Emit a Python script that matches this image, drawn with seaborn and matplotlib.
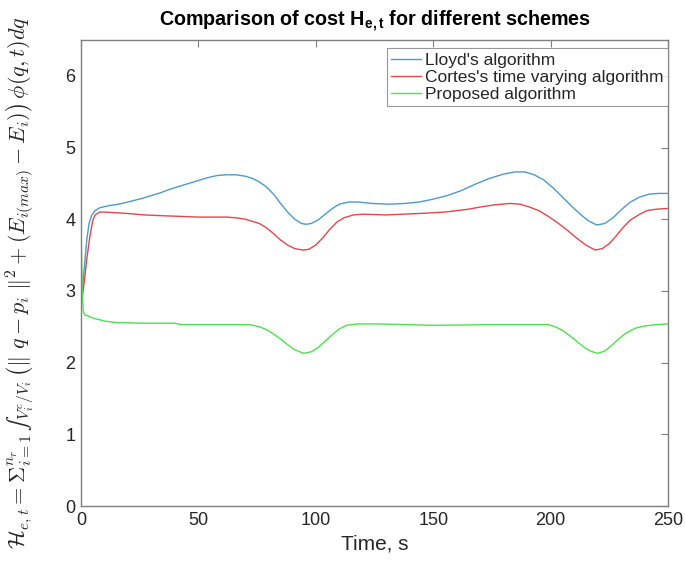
import numpy as np
import pandas as pd
import matplotlib
matplotlib.use("Agg")
import matplotlib.pyplot as plt
import seaborn as sns

# Cost H_{e,t} over time for three coverage-control schemes
t_lloyd = [0.5, 1.5, 2.5, 3.5, 4.5, 6, 8, 12, 16, 20, 26, 30, 34, 38, 42, 46,
           50, 54, 58, 62, 66, 70, 73, 76, 79, 82, 85, 88, 91, 94, 96, 98, 101,
           104, 107.5, 110, 114, 118, 124, 131, 138, 144, 150, 156, 162, 168,
           174, 180, 185, 189, 193, 197, 201, 205, 209, 213, 216, 219.6, 223,
           226.6, 230, 234, 238, 242, 246, 250]
v_lloyd = [3.01, 3.35, 3.72, 3.95, 4.05, 4.12, 4.16, 4.19, 4.21, 4.24, 4.29,
           4.33, 4.37, 4.42, 4.46, 4.50, 4.54, 4.58, 4.61, 4.62, 4.62, 4.60,
           4.57, 4.52, 4.45, 4.35, 4.22, 4.10, 4.00, 3.94, 3.93, 3.94, 3.99,
           4.07, 4.16, 4.21, 4.24, 4.24, 4.22, 4.21, 4.22, 4.24, 4.28, 4.33,
           4.40, 4.49, 4.57, 4.63, 4.66, 4.66, 4.62, 4.55, 4.44, 4.31, 4.18,
           4.06, 3.98, 3.92, 3.94, 4.02, 4.13, 4.24, 4.31, 4.35, 4.36, 4.36]

t_cortes = [0.5, 1.5, 2.5, 3.8, 5, 6, 8, 10, 15, 20, 27, 34, 42, 50, 56, 62,
            66, 70, 73, 76, 79, 82, 85, 88, 91, 94.6, 97, 100, 103, 106, 109,
            112, 116, 120, 130, 144, 155, 165, 170, 176, 182.7, 187, 191, 195,
            199, 203, 207, 211, 215, 219, 222, 225, 228, 231, 234, 238, 241,
            245, 250]
v_cortes = [2.90, 3.15, 3.45, 3.76, 3.98, 4.06, 4.10, 4.10, 4.09, 4.08, 4.06,
            4.05, 4.04, 4.03, 4.03, 4.03, 4.02, 4.00, 3.97, 3.94, 3.88, 3.80,
            3.71, 3.64, 3.59, 3.57, 3.58, 3.64, 3.74, 3.86, 3.96, 4.02, 4.06,
            4.07, 4.06, 4.08, 4.10, 4.14, 4.17, 4.20, 4.22, 4.21, 4.17, 4.12,
            4.04, 3.95, 3.85, 3.74, 3.64, 3.57, 3.59, 3.66, 3.77, 3.89, 3.99,
            4.07, 4.12, 4.14, 4.15]

t_prop = [0.0, 0.3, 0.6, 1.0, 1.5, 3, 5.2, 10, 14.7, 26, 40, 43, 60, 72, 76,
          79, 82, 85, 88, 91, 94.8, 98, 101, 104, 107, 110, 113, 118, 126, 150,
          175, 199, 202, 205, 208, 211, 214, 217, 220, 223, 226, 229, 232, 236,
          240, 245, 250]
v_prop = [3.90, 3.40, 2.95, 2.72, 2.67, 2.65, 2.62, 2.58, 2.56, 2.55, 2.55,
          2.53, 2.53, 2.53, 2.50, 2.46, 2.40, 2.33, 2.25, 2.18, 2.13, 2.15,
          2.21, 2.30, 2.39, 2.47, 2.52, 2.54, 2.54, 2.52, 2.53, 2.53, 2.50,
          2.45, 2.38, 2.30, 2.22, 2.16, 2.13, 2.16, 2.24, 2.33, 2.41, 2.48,
          2.51, 2.53, 2.54]

series_names = ["Lloyd's algorithm", "Cortes's time varying algorithm",
                "Proposed algorithm"]
series_colors = ["#4d9acb", "#e0484d", "#4fe04f"]

x_ticks = [0, 50, 100, 150, 200, 250]
y_ticks = [0, 1, 2, 3, 4, 5, 6]

sns.set_style("white")
plt.rcParams["font.family"] = ["Liberation Sans", "DejaVu Sans"]
plt.rcParams["mathtext.fontset"] = "custom"
plt.rcParams["mathtext.rm"] = "Liberation Sans"
plt.rcParams["mathtext.bf"] = "Liberation Sans:bold"
plt.rcParams["mathtext.it"] = "Liberation Sans:italic"

fig = plt.figure(figsize=(6.85, 5.64), dpi=100)
ax = fig.add_axes([0.1182, 0.1028, 0.9752 - 0.1182, 0.9291 - 0.1028])

frames = []
for name, tt, vv in [(series_names[0], t_lloyd, v_lloyd),
                     (series_names[1], t_cortes, v_cortes),
                     (series_names[2], t_prop, v_prop)]:
    frames.append(pd.DataFrame({"t": tt, "cost": vv, "scheme": name}))
df = pd.concat(frames, ignore_index=True)

sns.lineplot(data=df, x="t", y="cost", hue="scheme", hue_order=series_names,
             palette=series_colors, linewidth=1.0, ax=ax, sort=False,
             estimator=None)

ax.set_xlim(0, 250)
ax.set_ylim(0, 6.5)
ax.set_xticks(x_ticks)
ax.set_yticks(y_ticks)
ax.tick_params(axis="both", direction="in", length=5, width=0.8,
               colors="#7f7f7f", labelcolor="#262626", labelsize=13,
               top=True, right=True, pad=4)
for sp in ax.spines.values():
    sp.set_visible(True)
    sp.set_color("#7f7f7f")
    sp.set_linewidth(1.0)

ax.set_xlabel("Time, s", fontsize=15, color="#262626", labelpad=4)
ax.set_ylabel(r"$\mathcal{H}_{e,t} = \Sigma_{i=1}^{n_r}\,∫_{V_i^c/V_i}"
              r"\,\left(\| \ q-p_i \ \|^2 + (E_{i(max)}-E_i)\right)\,\phi(q,t)dq$",
              fontsize=16, color="#262626", math_fontfamily="cm")
ax.yaxis.set_label_coords(-0.077, 0.48)
ax.set_title(r"Comparison of cost H$_{\mathbf{e,t}}$ for different schemes",
             fontsize=14.2, fontweight="bold", color="black", pad=10)

leg = ax.legend(loc="upper right", bbox_to_anchor=(1.0, 0.982),
                borderaxespad=0.0, fontsize=12.5, frameon=True, fancybox=False,
                handlelength=1.7, handletextpad=0.25, borderpad=0.25,
                labelspacing=0.1, title=None)
leg.get_frame().set_edgecolor("#7f7f7f")
leg.get_frame().set_linewidth(0.8)
for txt in leg.get_texts():
    txt.set_color("#262626")

fig.savefig("out.png", dpi=100)
